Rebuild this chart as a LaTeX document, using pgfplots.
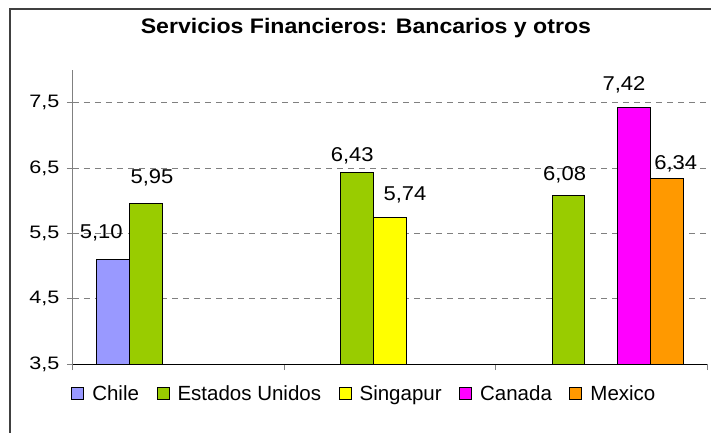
\documentclass[border=0pt]{standalone}
\usepackage{pgfplots}
\pgfplotsset{compat=1.18}
\usepackage{pgfplotstable}
\usepackage{fontspec}
\setmainfont{Liberation Sans}
\newfontfamily\tickfont{Liberation Sans}[FakeStretch=1.2]
\newfontfamily\labfont{Liberation Sans}[FakeStretch=1.1]
\newfontfamily\titfont{Liberation Sans}[FakeStretch=1.1]

\definecolor{cChile}{HTML}{9999FF}
\definecolor{cEU}{HTML}{99CC00}
\definecolor{cSing}{HTML}{FFFF00}
\definecolor{cCan}{HTML}{FF00FF}
\definecolor{cMex}{HTML}{FF9900}
\definecolor{gridc}{HTML}{808080}

% x = group (0,1,2); y = value; dx, dy = label offset (pt)
\pgfplotstableread{
x y dx dy
0 5.10 -12 27
}\chile
\pgfplotstableread{
x y dx dy
0 5.95 6 26
1 6.43 -5 17
2 6.08 -4 21
}\eu
\pgfplotstableread{
x y dx dy
1 5.74 15 23
}\sing
\pgfplotstableread{
x y dx dy
2 7.42 -10 23
}\can
\pgfplotstableread{
x y dx dy
2 6.34 9 15
}\mex

\pgfplotsset{
  mybar/.style={
    fill=#1, draw=black, line width=1pt,
    legend image code/.code={\draw[fill=#1, draw=black, line width=1pt] (0pt,-6pt) rectangle (12pt,6pt);},
    visualization depends on={\thisrow{dx} \as \ddx},
    visualization depends on={\thisrow{dy} \as \ddy},
    nodes near coords={\labfont\fontsize{20}{24}\selectfont\pgfmathprintnumber[fixed,fixed zerofill,precision=2,use comma,assume math mode=true]{\pgfplotspointmeta}},
    every node near coord/.append style={anchor=center, xshift=\ddx pt, yshift=\ddy pt, text=black, inner sep=0pt},
  },
}

\begin{document}
\begin{tikzpicture}
\path[use as bounding box] (-73pt,-69pt) rectangle (638pt,364pt);
\draw[line width=1.5pt, black!75] (-63pt,-69pt) -- (-63pt,355pt) -- (638pt,355pt);
\begin{axis}[
  scale only axis, width=634pt, height=294pt,
  xmin=-0.5, xmax=2.5, ymin=3.5, ymax=8,
  enlargelimits=false,
  ybar=0pt, bar width=32.7pt,
  axis x line*=bottom, axis y line*=left,
  axis line style={-},
  x axis line style={black, line width=1pt},
  y axis line style={gridc, line width=1pt},
  xtick={-0.5,0.5,1.5,2.5}, xticklabels={},
  ytick={3.5,4.5,5.5,6.5,7.5},
  tick align=outside, major tick length=6pt,
  tick style={gridc, line width=1pt},
  ymajorgrids, grid style={gridc, dash pattern=on 6pt off 5pt, line width=1pt},
  yticklabel style={xshift=-4pt, font=\tickfont\fontsize{18}{20}\selectfont, /pgf/number format/.cd, use comma, fixed, fixed zerofill, precision=1, assume math mode=true},
  title={\titfont\bfseries\fontsize{21}{25}\selectfont Servicios Financieros: Bancarios y otros},
  title style={at={(0.462,1.122)}, anchor=center},
  legend style={draw=none, fill=none, at={(-0.003,-0.102)}, anchor=west, legend columns=-1,
    font=\fontsize{20.5}{25}\selectfont, inner sep=0pt, nodes={inner sep=0pt},
    /tikz/every odd column/.append style={column sep=8pt},
    /tikz/every even column/.append style={column sep=17.5pt}},
  legend cell align=left,
]
\addplot[mybar=cChile] table[x=x,y=y] {\chile};
\addplot[mybar=cEU] table[x=x,y=y] {\eu};
\addplot[mybar=cSing] table[x=x,y=y] {\sing};
\addplot[mybar=cCan] table[x=x,y=y] {\can};
\addplot[mybar=cMex] table[x=x,y=y] {\mex};
\legend{Chile, Estados Unidos, Singapur, Canada, Mexico}
\end{axis}
\end{tikzpicture}
\end{document}
